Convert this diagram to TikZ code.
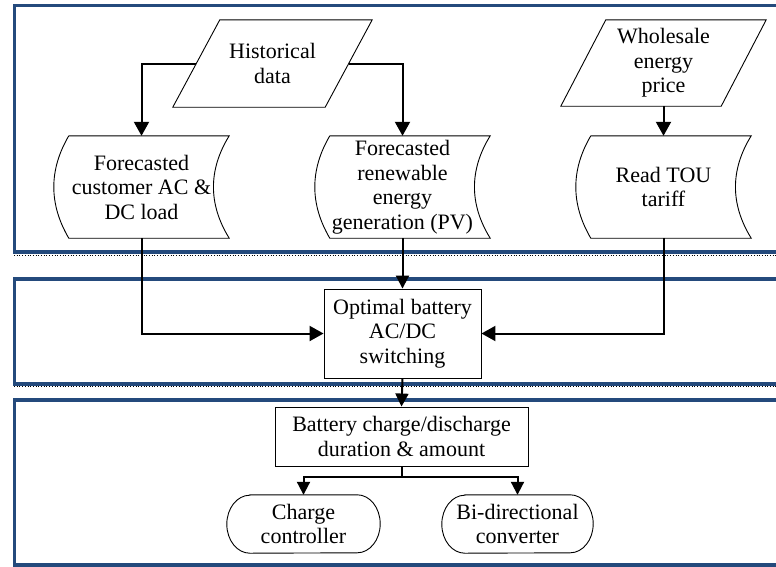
\documentclass[tikz,border=0pt]{standalone}
\usepackage{fontspec}
\setmainfont{Liberation Serif}
\usetikzlibrary{arrows.meta,calc}
\definecolor{panelblue}{RGB}{36,74,124}
\tikzset{
 txt/.style={draw=none, inner sep=0pt, align=center, font=\fontsize{22}{24.5}\selectfont},
 outline/.style={draw=black, line width=0.9pt},
 procbox/.style={txt, draw=black, line width=0.9pt},
 panel/.style={draw=panelblue, line width=3.5pt},
 sepline/.style={draw=black, dotted, line width=0.7pt},
 flow/.style={draw=black, line width=2pt, -{Triangle[length=14pt,width=15pt]}},
 flowthin/.style={draw=black, line width=2pt, -{Triangle[length=13pt,width=13pt]}},
 link/.style={draw=black, line width=2pt},
}
\begin{document}
\begin{tikzpicture}[x=1pt,y=-1pt]
\fill[white] (0,0) rectangle (776,566);
\useasboundingbox (0,0) rectangle (776,566);
\clip (0,0) rectangle (776,566);
% panels
\draw[panel] (14.5,5.5) rectangle (800,252);
\draw[sepline] (14,255.5) -- (800,255.5);
\draw[panel] (14.5,279) rectangle (800,384);
\draw[sepline] (14,386.5) -- (800,386.5);
\draw[panel] (14.5,400) rectangle (800,565);

% input parallelograms
\node[txt, minimum width=199pt, minimum height=87pt] (h) at (272.5,63.5) {Historical\\data};
\draw[outline] ([xshift=47pt]h.north west) -- (h.north east) -- ([xshift=-47pt]h.south east) -- (h.south west) -- cycle;
\node[txt, minimum width=205pt, minimum height=86pt] (w) at (663.5,63) {Wholesale\\energy\\price};
\draw[outline] ([xshift=45pt]w.north west) -- (w.north east) -- ([xshift=-45pt]w.south east) -- (w.south west) -- cycle;

% stored data shapes
\node[txt, minimum width=175pt, minimum height=102pt] (c) at (141.5,187) {Forecasted\\customer AC \&\\DC load};
\node[txt, minimum width=175pt, minimum height=102pt] (r) at (402.5,187) {Forecasted\\renewable\\energy\\generation (PV)};
\node[txt, minimum width=175pt, minimum height=102pt] (t) at (663.5,187) {Read TOU\\tariff};
\foreach \n in {c,r,t}{
  \draw[outline] ([xshift=15pt]\n.north west) -- (\n.north east)
     .. controls +(-21,34) and +(-21,-34) .. (\n.south east)
     -- ([xshift=15pt]\n.south west)
     .. controls +(-20,-34) and +(-20,34) .. ([xshift=15pt]\n.north west);
}

% process boxes
\node[procbox, minimum width=157pt, minimum height=89pt] (o) at (402.5,333.5) {Optimal battery\\AC/DC\\switching};
\node[procbox, minimum width=253pt, minimum height=59pt] (b) at (401.5,436.5) {Battery charge/discharge\\duration \& amount};

% terminators
\node[txt, minimum width=153pt, minimum height=58pt] (cc) at (303.5,524) {Charge\\controller};
\node[txt, minimum width=151pt, minimum height=58pt] (bd) at (517.5,524) {Bi-directional\\converter};
\foreach \n in {cc,bd}{
  \draw[outline] ([xshift=23pt]\n.north west) -- ([xshift=-23pt]\n.north east)
     arc[start angle=-90, end angle=90, x radius=23, y radius=29]
     -- ([xshift=23pt]\n.south west)
     arc[start angle=90, end angle=270, x radius=23, y radius=29] -- cycle;
}

% connectors
\draw[flow] ([xshift=23.5pt]h.west) -| (c.north);
\draw[flow] ([xshift=-23.5pt]h.east) -| (r.north);
\draw[flow] (w.south) -- (t.north);
\draw[flow] (c.south) |- (o.west);
\draw[flowthin] (r.south) -- (o.north);
\draw[flow] (t.south) |- (o.east);
\draw[flowthin] (o.south) -- (b.north);
\coordinate (split) at ($(b.south)+(0,11)$);
\draw[link] (b.south) -- (split);
\draw[flowthin] (split) -| (cc.north);
\draw[flowthin] (split) -| (bd.north);
\end{tikzpicture}
\end{document}
